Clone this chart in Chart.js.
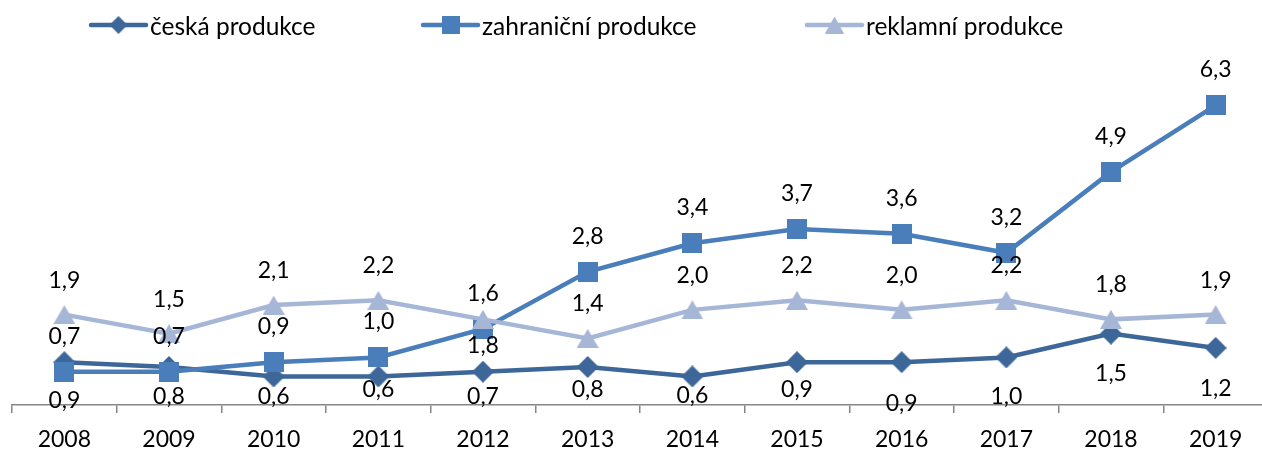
<!DOCTYPE html>
<html>
<head>
<meta charset="utf-8">
<script src="https://cdn.jsdelivr.net/npm/chart.js@4.4.0/dist/chart.umd.min.js"></script>
<style>
  html, body { margin: 0; padding: 0; background: #fff; overflow: hidden; }
  #wrap { width: 1262px; height: 451px; overflow: hidden; }
  canvas { display: block; }
</style>
</head>
<body>
<div id="wrap"><canvas id="myChart" width="1268" height="466"></canvas></div>
<script>
// data
const years = ['2008', '2009', '2010', '2011', '2012', '2013', '2014', '2015', '2016', '2017', '2018', '2019'];
const ceska = [0.9, 0.8, 0.6, 0.6, 0.7, 0.8, 0.6, 0.9, 0.9, 1.0, 1.5, 1.2];
const zahranicni = [0.7, 0.7, 0.9, 1.0, 1.6, 2.8, 3.4, 3.7, 3.6, 3.2, 4.9, 6.3];
const reklamni = [1.9, 1.5, 2.1, 2.2, 1.8, 1.4, 2.0, 2.2, 2.0, 2.2, 1.8, 1.9];
const seriesNames = ['česká produkce', 'zahraniční produkce', 'reklamní produkce'];

const FONT = "Lato, 'Open Sans', sans-serif";
const colors = ['#3D6699', '#4A7EBB', '#A5B6D6'];

// label placement (px from point), hand tuned like the original
const ceskaLabelDy = [38, 29, 20, 13, 24, 22, 19, 27, 41, 39, 39, 40];
const zahrLabelDy = years.map(() => -36);
const reklLabelDy = years.map((y, i) => i === 4 ? 26 : -35);

function marker(shape, color, w, h) {
  const c = document.createElement('canvas');
  c.width = w; c.height = h;
  const g = c.getContext('2d');
  g.fillStyle = color;
  g.beginPath();
  if (shape === 'diamond') {
    g.moveTo(w / 2, 0); g.lineTo(w, h / 2); g.lineTo(w / 2, h); g.lineTo(0, h / 2);
  } else if (shape === 'square') {
    g.rect(0, 0, w, h);
  } else {
    g.moveTo(w / 2, 0); g.lineTo(w, h); g.lineTo(0, h);
  }
  g.closePath();
  g.fill();
  return c;
}

const markers = [
  marker('diamond', colors[0], 22, 22),
  marker('square', colors[1], 20, 20),
  marker('triangle', colors[2], 22, 19)
];
const legendMarkers = [
  marker('diamond', colors[0], 18, 18),
  marker('square', colors[1], 18, 18),
  marker('triangle', colors[2], 19, 17)
];

const valueLabels = {
  id: 'valueLabels',
  afterDatasetsDraw(chart) {
    const ctx = chart.ctx;
    ctx.save();
    ctx.font = '23px ' + FONT;
    ctx.fillStyle = '#000';
    ctx.textAlign = 'center';
    ctx.textBaseline = 'alphabetic';
    chart.data.datasets.forEach((ds, i) => {
      chart.getDatasetMeta(i).data.forEach((pt, j) => {
        const txt = ds.data[j].toFixed(1).replace('.', ',');
        ctx.fillText(txt, pt.x, pt.y + ds.labelDy[j] + 8);
      });
    });
    ctx.restore();
  }
};

const excelLegend = {
  id: 'excelLegend',
  afterDraw(chart) {
    const ctx = chart.ctx;
    const starts = [91, 423, 807];
    const y = 25;
    ctx.save();
    ctx.font = '24.5px ' + FONT;
    ctx.fillStyle = '#000';
    ctx.textBaseline = 'alphabetic';
    seriesNames.forEach((name, i) => {
      const x = starts[i];
      ctx.strokeStyle = colors[i];
      ctx.lineWidth = 4.5;
      ctx.lineCap = 'round';
      ctx.beginPath();
      ctx.moveTo(x, y);
      ctx.lineTo(x + 55, y);
      ctx.stroke();
      const m = legendMarkers[i];
      ctx.drawImage(m, x + 27.5 - m.width / 2, y - m.height / 2);
      ctx.fillText(name, x + 59, 35);
    });
    ctx.restore();
  }
};

function makeSet(label, data, i, labelDy, order) {
  return {
    label: label,
    data: data,
    borderColor: colors[i],
    backgroundColor: colors[i],
    borderWidth: 4.5,
    tension: 0,
    pointStyle: markers[i],
    pointRadius: 10,
    pointHoverRadius: 10,
    labelDy: labelDy,
    order: order
  };
}

const ctx = document.getElementById('myChart').getContext('2d');
new Chart(ctx, {
  type: 'line',
  data: {
    labels: years,
    datasets: [
      makeSet(seriesNames[0], ceska, 0, ceskaLabelDy, 3),
      makeSet(seriesNames[1], zahranicni, 1, zahrLabelDy, 2),
      makeSet(seriesNames[2], reklamni, 2, reklLabelDy, 1)
    ]
  },
  options: {
    responsive: false,
    animation: false,
    events: [],
    layout: { autoPadding: false, padding: { left: 12, right: 0, top: 72, bottom: 0 } },
    plugins: {
      legend: { display: false },
      tooltip: { enabled: false }
    },
    scales: {
      x: {
        offset: true,
        grid: {
          offset: true,
          drawOnChartArea: false,
          drawTicks: true,
          tickLength: 8,
          color: '#868686',
          lineWidth: 1.5
        },
        border: { display: true, color: '#868686', width: 1.5 },
        ticks: {
          color: '#000',
          padding: 15,
          font: { family: FONT, size: 23, lineHeight: 1 },
          maxRotation: 0,
          autoSkip: false
        }
      },
      y: {
        display: false,
        min: 0,
        max: 7
      }
    }
  },
  plugins: [valueLabels, excelLegend]
});
</script>
</body>
</html>
